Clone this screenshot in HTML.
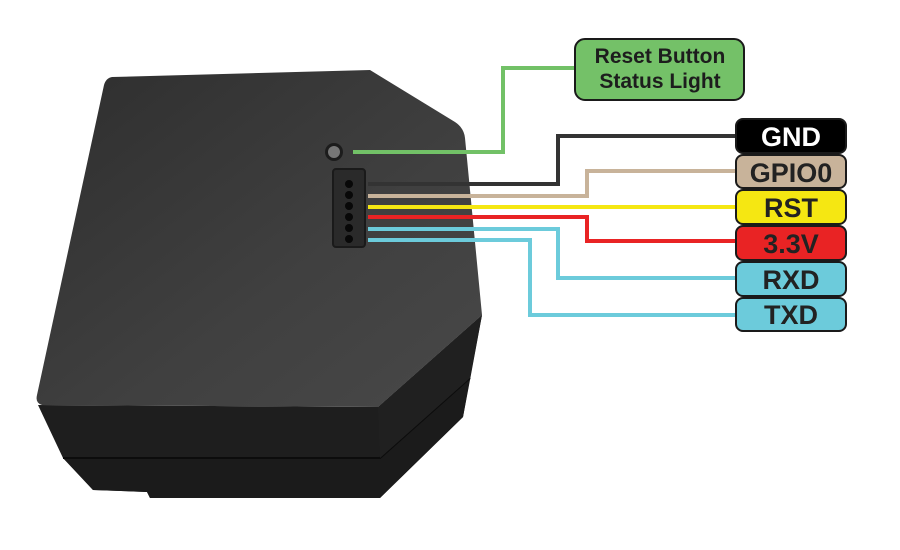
<!DOCTYPE html>
<html><head><style>
html,body{margin:0;padding:0;background:#fff;width:900px;height:550px;overflow:hidden}
svg{display:block}
text{font-family:"Liberation Sans",Arial,sans-serif;font-weight:bold}
</style></head><body>
<svg width="900" height="550" viewBox="0 0 900 550">
<defs>
<linearGradient id="top" x1="0" y1="0" x2="1" y2="1">
<stop offset="0" stop-color="#2e2e2e"/><stop offset="0.6" stop-color="#404040"/><stop offset="1" stop-color="#484848"/>
</linearGradient>
</defs>
<!-- lower body -->
<polygon points="38,405 63,458 93,490 147,492 150,498 380,498 463,417 470,380 482,315 378,407" fill="#1e1e1e"/>
<polygon points="63,458 380,458 470,378 463,417 380,498 150,498 147,492 93,490" fill="#1b1b1b"/>
<polyline points="63,458 380,458 470,378" fill="none" stroke="#0c0c0c" stroke-width="2"/>
<polygon points="378,407 482,315 470,378 380,458" fill="#202020"/>
<!-- top face -->
<path d="M112,77 L370,70 L455,122 Q464,128 465,138 L482,315 L378,407 L42,405 Q35,403 37,395 L104,85 Q106,78 112,77 Z" fill="url(#top)"/>
<!-- LED -->
<circle cx="334" cy="152" r="9" fill="#1c1c1c"/>
<circle cx="334" cy="152" r="6" fill="#777"/>
<!-- header -->
<rect x="333" y="169" width="32" height="78" rx="3" fill="#2a2a2a" stroke="#1a1a1a" stroke-width="2"/>
<g fill="#080808">
<circle cx="349" cy="184" r="4"/><circle cx="349" cy="195" r="4"/><circle cx="349" cy="206" r="4"/>
<circle cx="349" cy="217" r="4"/><circle cx="349" cy="228" r="4"/><circle cx="349" cy="239" r="4"/>
</g>
<!-- wires -->
<g fill="none" stroke-width="4">
<polyline points="353,152 503,152 503,68 576,68" stroke="#72c167"/>
<polyline points="368,184 558,184 558,136 736,136" stroke="#333"/>
<polyline points="368,196 587,196 587,171 736,171" stroke="#c8b39a"/>
<polyline points="368,207 736,207" stroke="#f5e712"/>
<polyline points="368,217 587,217 587,241 736,241" stroke="#e92324"/>
<polyline points="368,229 558,229 558,278 736,278" stroke="#6ccbdb"/>
<polyline points="368,240 530,240 530,315 736,315" stroke="#6ccbdb"/>
</g>
<!-- labels -->
<rect x="575" y="39" width="169" height="61" rx="10" fill="#74c168" stroke="#1a1a1a" stroke-width="2"/>
<text x="660" y="63" font-size="21" text-anchor="middle" fill="#1d1d1d">Reset Button</text>
<text x="660" y="88" font-size="21" text-anchor="middle" fill="#1d1d1d">Status Light</text>
<g stroke="#1a1a1a" stroke-width="2">
<rect x="736" y="119" width="110" height="34" rx="7" fill="#000"/>
<rect x="736" y="155" width="110" height="33" rx="7" fill="#c8b39a"/>
<rect x="736" y="190" width="110" height="34" rx="7" fill="#f5e712"/>
<rect x="736" y="226" width="110" height="34" rx="7" fill="#e92324"/>
<rect x="736" y="262" width="110" height="34" rx="7" fill="#6ccbdb"/>
<rect x="736" y="298" width="110" height="33" rx="7" fill="#6ccbdb"/>
</g>
<g font-size="27" text-anchor="middle">
<text x="791" y="146" fill="#fff">GND</text>
<text x="791" y="182" fill="#222">GPIO0</text>
<text x="791" y="217" fill="#222">RST</text>
<text x="791" y="253" fill="#222">3.3V</text>
<text x="791" y="289" fill="#222">RXD</text>
<text x="791" y="324" fill="#222">TXD</text>
</g>
</svg>
</body></html>
